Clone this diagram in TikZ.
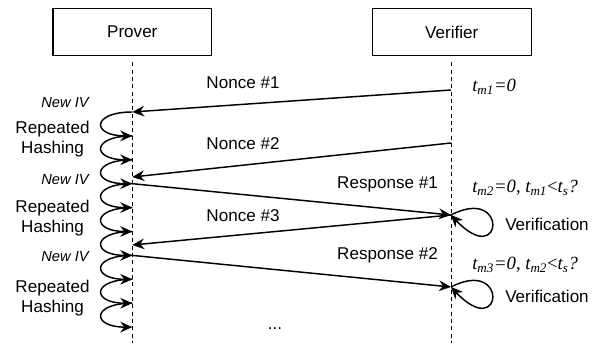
\documentclass[tikz,border=0pt]{standalone}
\usepackage{fontspec}
\setmainfont{Liberation Sans}
\newfontfamily\serifit{Liberation Serif}
\usetikzlibrary{positioning,arrows.meta,calc}

\begin{document}
\begin{tikzpicture}[
    x=0.75pt,
    y=-0.75pt,
    font=\fontsize{12.8}{15}\selectfont,
    actor/.style={
        draw,
        line width=0.9pt,
        minimum width=119pt,
        minimum height=35.5pt,
        inner sep=0pt
    },
    lifeline/.style={line width=0.9pt, dash pattern=on 3pt off 2.5pt},
    arrow/.style={-{Stealth[length=9pt, width=8pt, inset=3pt]}, line width=1.1pt},
    hashloop/.style={arrow, out=180, in=180, looseness=4.4},
    lbl/.style={inner sep=0pt, anchor=base},
    ivlbl/.style={lbl, font=\fontsize{11}{13}\selectfont\itshape},
    steplbl/.style={inner sep=0pt, align=center},
    timing/.style={inner sep=0pt, anchor=base west, font=\fontsize{14}{16}\selectfont\serifit\itshape}
]
\useasboundingbox (0,0) rectangle (597,345);

% ============================================================
% PARTICIPANTS AND LIFELINES
% ============================================================
\node[actor] (prover) at (132.3,32) {Prover};
\node[actor, right=119.7pt of prover] (verifier) {Verifier};

\coordinate (ptop) at ($(prover.south)+(0,6)$);
\coordinate (pbot) at (prover |- 0,343);
\coordinate (vtop) at ($(verifier.south)+(0,6)$);
\coordinate (vbot) at (verifier |- 0,343);

\draw[lifeline] (ptop) -- (pbot);
\draw[lifeline] (vtop) -- (vbot);

% ============================================================
% REPEATED HASHING ON THE PROVER
% ============================================================
\foreach \i in {0,...,9}{
    \pgfmathsetmacro{\hy}{112+23.9*\i}
    \coordinate (h\i) at (132.3,\hy);
}
\foreach \i [evaluate=\i as \j using int(\i+1)] in {0,...,8}
    \draw[hashloop] (h\i) to (h\j);

\node[ivlbl] (iv1) at (65,108) {New IV};
\node[ivlbl] (iv2) at (65,185) {New IV};
\node[ivlbl] (iv3) at (65,262) {New IV};

\node[steplbl] (hash1) at (52.5,139) {Repeated\\Hashing};
\node[steplbl] (hash2) at (52.5,218) {Repeated\\Hashing};
\node[steplbl] (hash3) at (52.5,298) {Repeated\\Hashing};

% ============================================================
% MESSAGES
% ============================================================
\coordinate (v1) at (451,90);
\coordinate (v2) at (451,143);
\coordinate (v3) at (451,215);
\coordinate (v4) at (451,287);
\coordinate (n2) at (132.3,177);
\coordinate (n3) at (132.3,245);

\draw[arrow] (v1) -- (h0);
\draw[arrow] (v2) -- (n2);
\draw[arrow] (h3) -- (v3);
\draw[arrow] (v3) -- (n3);
\draw[arrow] (h6) -- (v4);

\node[lbl] (nonce1) at (243,89) {Nonce \#1};
\node[lbl] (nonce2) at (243,150) {Nonce \#2};
\node[lbl] (nonce3) at (243,222) {Nonce \#3};
\node[lbl] (resp1) at (387.5,189) {Response \#1};
\node[lbl] (resp2) at (387.5,260) {Response \#2};
\node[lbl] (more) at (275,330) {...};

% ============================================================
% VERIFICATION ON THE VERIFIER
% ============================================================
\draw[arrow] (v3) .. controls ($(v3)+(58,-30)$) and ($(v3)+(52,55)$) .. (v3);
\draw[arrow] (v4) .. controls ($(v4)+(58,-30)$) and ($(v4)+(52,55)$) .. (v4);

\node[steplbl] (check1) at (547,224) {Verification};
\node[steplbl] (check2) at (547,296) {Verification};

\node[timing] (t1) at (472,92) {t\textsubscript{m1}=0};
\node[timing] (t2) at (472,193) {t\textsubscript{m2}=0, t\textsubscript{m1}{\upshape<}t\textsubscript{s}?};
\node[timing] (t3) at (472,270) {t\textsubscript{m3}=0, t\textsubscript{m2}{\upshape<}t\textsubscript{s}?};

\end{tikzpicture}
\end{document}
